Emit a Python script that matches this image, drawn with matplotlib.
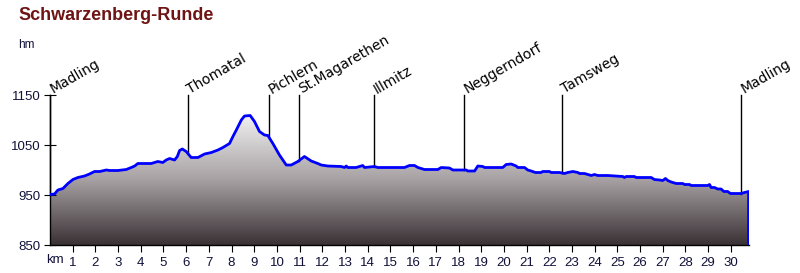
import numpy as np
import matplotlib
matplotlib.use("Agg")
import matplotlib.pyplot as plt
from matplotlib.colors import LinearSegmentedColormap

km = [0.0, 0.20, 0.35, 0.57, 0.79, 1.01, 1.23, 1.52, 1.74, 1.96, 2.19, 2.48, 2.63, 2.99,
      3.36, 3.58, 3.73, 3.87, 4.46, 4.75, 4.97, 5.12, 5.27, 5.49, 5.61, 5.71, 5.83, 6.00,
      6.22, 6.52, 6.81, 7.11, 7.40, 7.62, 7.91, 8.06, 8.21, 8.43, 8.57, 8.82, 9.01, 9.23,
      9.45, 9.60, 9.82, 10.11, 10.41, 10.63, 10.92, 11.21, 11.51, 11.80, 11.95, 12.24,
      12.83, 12.98, 13.05, 13.12, 13.49, 13.78, 13.86, 14.30, 14.44, 15.62, 15.84, 16.06,
      16.21, 16.50, 17.09, 17.24, 17.60, 17.75, 18.34, 18.41, 18.71, 18.85, 19.07, 19.15,
      19.95, 20.10, 20.32, 20.54, 20.61, 20.91, 21.05, 21.20, 21.39, 21.64, 21.71, 22.01,
      22.08, 22.45, 22.67, 22.81, 23.04, 23.26, 23.33, 23.55, 23.70, 23.85, 23.99, 24.14,
      24.58, 25.24, 25.31, 25.39, 25.75, 25.83, 26.49, 26.63, 26.86, 27.00, 27.12, 27.22,
      27.37, 27.59, 27.88, 27.96, 28.18, 28.25, 28.98, 29.06, 29.13, 29.28, 29.42, 29.57,
      29.69, 29.86, 29.98, 30.45, 30.60, 30.78]
hoehe = [951, 952, 960, 963, 973, 981, 985, 988, 992, 997, 997, 1000, 999, 999,
         1001, 1005, 1008, 1013, 1013, 1017, 1015, 1020, 1023, 1020, 1027, 1039, 1042, 1037,
         1025, 1025, 1032, 1035, 1040, 1045, 1053, 1067, 1080, 1100, 1108, 1109, 1097, 1077,
         1070, 1069, 1053, 1030, 1010, 1010, 1017, 1027, 1018, 1013, 1010, 1008,
         1007, 1005, 1008, 1005, 1005, 1009, 1005, 1007, 1005, 1005, 1009, 1009,
         1005, 1001, 1001, 1005, 1004, 1000, 1000, 998, 998, 1008, 1007, 1005,
         1005, 1011, 1012, 1008, 1005, 1005, 1000, 998, 995, 995, 997, 997,
         995, 995, 993, 995, 997, 995, 993, 993, 991, 989, 991, 989,
         989, 987, 985, 987, 987, 985, 985, 981, 980, 979, 983, 979,
         976, 973, 973, 971, 971, 969, 969, 971, 965, 965, 962, 962,
         957, 957, 953, 953, 955, 957]

orte = ["Madling", "Thomatal", "Pichlern", "St.Magarethen", "Illmitz",
        "Neggerndorf", "Tamsweg", "Madling"]
orte_km = [0.0, 6.06, 9.65, 10.97, 14.27, 18.24, 22.54, 30.45]

km_ticks = list(range(1, 31))
hm_ticks = [850, 950, 1050, 1150]

txt_farbe = "#10103a"

fig = plt.figure(figsize=(8, 2.73), dpi=100)
ax = fig.add_axes([50 / 800, 1 - 245 / 273, 699 / 800, 150 / 273])
ax.set_xlim(0, 30.8)
ax.set_ylim(850, 1150)

# Verlauf unter dem Profil
cmap = LinearSegmentedColormap.from_list("grau", ["#3a3135", "#a7a1a3", "#f2f2f2"])
grad = np.linspace(0, 1, 256).reshape(-1, 1)
img = ax.imshow(grad, cmap=cmap, origin="lower", aspect="auto",
                extent=[0, km[-1], 850, 1112], zorder=1)
poly = ax.fill_between(km, hoehe, 850, color="none", lw=0)
clip = poly.get_paths()[0]
img.set_clip_path(clip, transform=ax.transData)

ax.plot(km + [km[-1]], hoehe + [850], color="#0000ff", lw=2, zorder=3)

# Ortsmarken
for name, k in zip(orte, orte_km):
    h = np.interp(k, km, hoehe)
    ax.plot([k, k], [h, 1150], color="black", lw=1, zorder=2, clip_on=False)
    ax.text(k + 0.12, 1153, name, rotation=30, rotation_mode="anchor",
            ha="left", va="baseline", fontsize=10, family="DejaVu Sans", color="black")

for s in ["top", "right"]:
    ax.spines[s].set_visible(False)
ax.spines["left"].set_linewidth(1)
ax.spines["bottom"].set_linewidth(1)

ax.set_yticks(hm_ticks)
ax.set_yticklabels([str(v) for v in hm_ticks])
ax.set_xticks(km_ticks)
ax.set_xticklabels([str(v) for v in km_ticks])
ax.tick_params(axis="y", direction="inout", length=9, labelsize=9.5,
               labelcolor=txt_farbe, pad=2)
ax.tick_params(axis="x", direction="out", length=5, labelsize=9.5,
               labelcolor=txt_farbe, pad=4)
for t in ax.get_xticklabels() + ax.get_yticklabels():
    t.set_family("Liberation Sans")

ax.text(0.22, -0.06, "km", transform=ax.get_xaxis_transform(), ha="center", va="top",
        fontsize=9.5, family="Liberation Sans", color=txt_farbe)

fig.text(18 / 800, 1 - 16 / 273, "Schwarzenberg-Runde", fontsize=13, fontweight="bold",
         family="Liberation Sans", color="#6e1414", va="center")
fig.text(18 / 800, 1 - 45 / 273, "hm", fontsize=8.5, family="Liberation Sans",
         color=txt_farbe, va="center")

fig.savefig("out.png", dpi=100)
